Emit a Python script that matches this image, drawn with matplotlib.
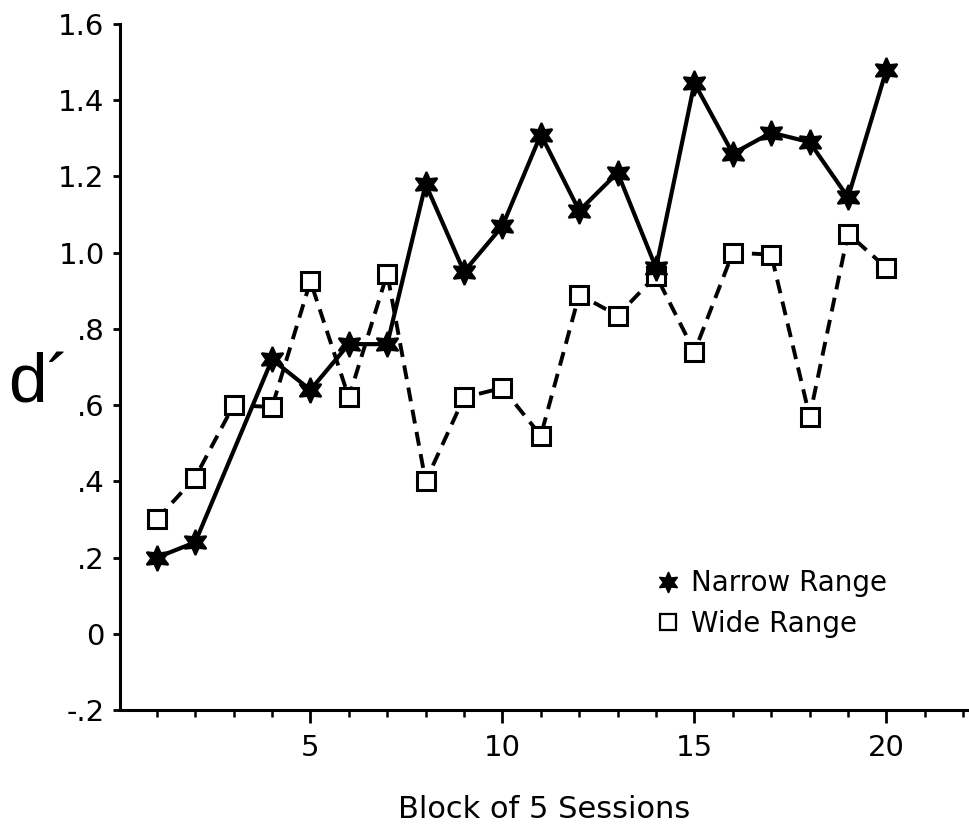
import numpy as np
import matplotlib
matplotlib.use("Agg")
import matplotlib.pyplot as plt
from matplotlib.lines import Line2D

plt.rcParams.update({
    "font.family": ["DejaVu Sans"],
    "font.size": 21,
})

# d' per block of 5 sessions (narrow range has no value at block 3)
narrow_blocks = [1, 2, 4, 5, 6, 7, 8, 9, 10, 11, 12, 13, 14, 15, 16, 17, 18, 19, 20]
narrow_d = [0.20, 0.24, 0.72, 0.64, 0.76, 0.76, 1.18, 0.95, 1.07, 1.31, 1.11,
            1.21, 0.96, 1.445, 1.26, 1.315, 1.29, 1.145, 1.48]
wide_blocks = list(range(1, 21))
wide_d = [0.30, 0.41, 0.60, 0.595, 0.925, 0.62, 0.945, 0.40, 0.62, 0.645,
          0.52, 0.89, 0.835, 0.94, 0.74, 1.00, 0.995, 0.57, 1.05, 0.96]

yticks = [-0.2, 0, 0.2, 0.4, 0.6, 0.8, 1.0, 1.2, 1.4, 1.6]
ytick_labels = ["-.2", "0", ".2", ".4", ".6", ".8", "1.0", "1.2", "1.4", "1.6"]
xticks_major = [5, 10, 15, 20]

STAR = (6, 1, 0)

fig = plt.figure(figsize=(9.69, 8.4), dpi=100)
ax = fig.add_axes([0.1238, 0.1548, 0.8762, 0.8166])

ax.plot(narrow_blocks, narrow_d, "-", color="black", lw=3.0,
        marker=STAR, ms=18, mfc="black", mec="black", mew=1.5, zorder=3)
ax.plot(wide_blocks, wide_d, color="black", lw=2.8, dashes=(3.6, 2.2),
        marker="s", ms=13.5, mfc="white", mec="black", mew=2.2, zorder=2)

ax.set_xlim(0.04, 22.15)
ax.set_ylim(-0.2, 1.6)
ax.spines["top"].set_visible(False)
ax.spines["right"].set_visible(False)
for s in ("left", "bottom"):
    ax.spines[s].set_linewidth(2.2)

ax.set_yticks(yticks)
ax.set_yticklabels(ytick_labels)
ax.set_xticks(xticks_major)
ax.set_xticks(range(1, 23), minor=True)
ax.tick_params(axis="y", direction="out", length=5, width=2, pad=6, labelsize=21)
ax.tick_params(axis="x", which="major", direction="out", length=9, width=2,
               pad=8, labelsize=21)
ax.tick_params(axis="x", which="minor", direction="out", length=5, width=1.8)

ax.set_xlabel("Block of 5 Sessions", fontsize=22, labelpad=24)
ax.set_ylabel("d\u00b4", fontsize=50, rotation=0, va="center", ha="center",
              family="Liberation Sans")
ax.yaxis.set_label_coords(-0.095, 0.474)

handles = [
    Line2D([], [], ls="none", marker=STAR, ms=15, mfc="black", mec="black"),
    Line2D([], [], ls="none", marker="s", ms=11, mfc="white", mec="black", mew=1.6),
]
ax.legend(handles, ["Narrow Range", "Wide Range"], loc="upper left",
          bbox_to_anchor=(0.632, 0.205), frameon=False, fontsize=20,
          handlelength=0.8, handletextpad=0.45, labelspacing=0.45,
          borderpad=0, borderaxespad=0)

fig.savefig("out.png", dpi=100)
